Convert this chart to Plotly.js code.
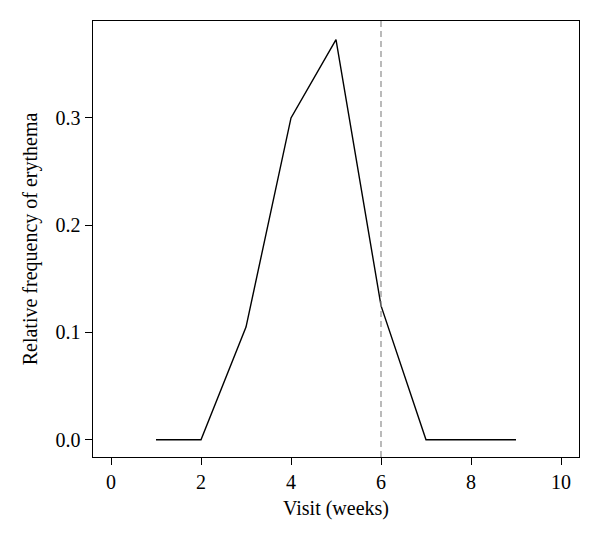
<!DOCTYPE html>
<html><head><meta charset="utf-8">
<script src="https://cdn.plot.ly/plotly-3.0.1.min.js"></script>
<style>html,body{margin:0;padding:0;background:#fff}</style>
</head><body>
<div id="chart" style="width:600px;height:543px"></div>
<script>
var visitWeeks = [1, 2, 3, 4, 5, 6, 7, 8, 9];
var relFreq = [0, 0, 0.105, 0.3, 0.373, 0.125, 0, 0, 0];
var cutoffWeek = 6;
var xTicks = [0, 2, 4, 6, 8, 10];
var yTicks = [0, 0.1, 0.2, 0.3];

var font = {family: '"Liberation Serif", "DejaVu Serif", serif', size: 20, color: '#000'};
var trace = {
  x: visitWeeks, y: relFreq, type: 'scatter', mode: 'lines',
  line: {color: '#000', width: 1.4}, hoverinfo: 'none'
};
var layout = {
  width: 600, height: 543,
  margin: {l: 93, r: 21, t: 21, b: 86},
  paper_bgcolor: '#fff', plot_bgcolor: '#fff',
  showlegend: false, font: font,
  xaxis: {
    range: [-0.4, 10.4], tickvals: xTicks, ticktext: xTicks.map(String),
    ticks: 'outside', ticklen: 7, tickwidth: 1, tickcolor: '#000',
    showgrid: false, zeroline: false, showline: true, mirror: true,
    linecolor: '#000', linewidth: 1.4, tickfont: font,
    title: {text: 'Visit (weeks)', font: font, standoff: 8}
  },
  yaxis: {
    range: [-0.0161, 0.3903], tickvals: yTicks, ticktext: yTicks.map(function(v){return v.toFixed(1);}),
    ticks: 'outside', ticklen: 7, tickwidth: 1, tickcolor: '#000',
    showgrid: false, zeroline: false, showline: true, mirror: true,
    linecolor: '#000', linewidth: 1.4, tickfont: font,
    title: {text: 'Relative frequency of erythema', font: font, standoff: 12}
  },
  shapes: [{
    type: 'line', xref: 'x', yref: 'paper', x0: cutoffWeek, x1: cutoffWeek, y0: 0, y1: 1,
    line: {color: '#8c8c8c', width: 1.2, dash: '6px,4px'}
  }]
};
Plotly.newPlot('chart', [trace], layout, {staticPlot: true, displayModeBar: false});
</script>
</body></html>
